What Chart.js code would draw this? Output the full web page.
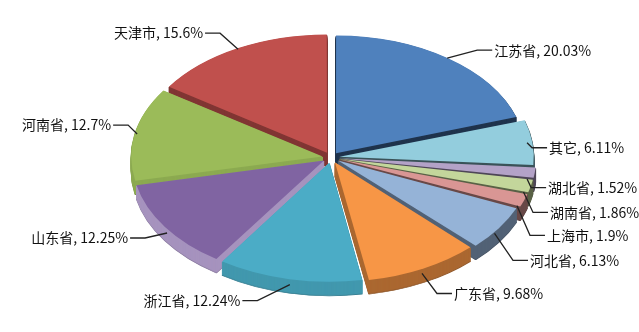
<!DOCTYPE html>
<html>
<head>
<meta charset="utf-8">
<script src="https://cdn.jsdelivr.net/npm/chart.js@4.4.1/dist/chart.umd.min.js"></script>
<style>
  html, body { margin: 0; padding: 0; background: #ffffff; }
  #wrap { position: relative; width: 639px; height: 332px; }
</style>
</head>
<body>
<div id="wrap"><canvas id="pie"></canvas></div>
<script>
// Share of total by region (%), clockwise from 12 o'clock
const regions = ['江苏省', '其它', '湖北省', '湖南省', '上海市', '河北省', '广东省', '浙江省', '山东省', '河南省', '天津市'];
const shares = [20.03, 6.11, 1.52, 1.86, 1.9, 6.13, 9.68, 12.24, 12.25, 12.7, 15.6];
const sliceColors = ['#4F81BD', '#93CDDD', '#B3A2C7', '#C3D69B', '#D99694', '#95B3D7', '#F79646', '#4BACC6', '#8064A2', '#9BBB59', '#C0504D'];

// Look of the tilted pie
const PIE_RX = 189;      // horizontal radius of the top face
const PIE_RY = 117.5;    // vertical radius of the top face
const PIE_DEPTH = 14;    // thickness of the slab
const LABEL_FONT = '14px "Liberation Sans Narrow", "Noto Sans CJK SC", sans-serif';

// Callout bends (dx, dy) from the slice edge to the elbow of each leader line
const calloutBend = [[30, -8], [5, 5], [4, 8.5], [9.5, 20.5], [13, 29.5], [18.5, 27], [15, 20], [-32.5, 16], [-22, 5], [-9, -9], [-18, -16]];
const CALLOUT_TAIL = 15;

function shade(hex, f) {
  const n = parseInt(hex.slice(1), 16);
  let r = (n >> 16) & 255, g = (n >> 8) & 255, b = n & 255;
  if (f > 1) {
    const t = f - 1;
    r = r + (255 - r) * t; g = g + (255 - g) * t; b = b + (255 - b) * t;
  } else {
    r *= f; g *= f; b *= f;
  }
  const c = v => Math.max(0, Math.min(255, Math.round(v))).toString(16).padStart(2, '0');
  return '#' + c(r) + c(g) + c(b);
}

// side-wall colour: lit from the lower left
function wallColor(hex, halfAngle) {
  const light = Math.cos(halfAngle - (150 * Math.PI / 180));
  let f = 0.68 + 0.3 * light;
  if (f > 0.95) f = 1.3;
  return shade(hex, f);
}

function pieTransform(ctx, arc) {
  const R = arc.outerRadius;
  ctx.translate(arc.x, arc.y);
  ctx.scale(PIE_RX / R, PIE_RY / R);
  ctx.translate(-arc.x, -arc.y);
}

const tiltedPie = {
  id: 'tiltedPie',
  beforeDatasetsDraw(chart) {
    const ctx = chart.ctx;
    const arcs = chart.getDatasetMeta(0).data;
    if (!arcs.length) return;
    // back slices first
    const order = arcs.map((a, i) => i).sort((i, j) => {
      const ai = (arcs[i].startAngle + arcs[i].endAngle) / 2;
      const aj = (arcs[j].startAngle + arcs[j].endAngle) / 2;
      return Math.sin(ai) - Math.sin(aj);
    });
    for (let d = PIE_DEPTH; d >= 1; d--) {
      for (const i of order) {
        const arc = arcs[i];
        const half = (arc.startAngle + arc.endAngle) / 2;
        let col = wallColor(sliceColors[i], half);
        if (d === PIE_DEPTH) col = shade(col, 0.85);
        const saved = arc.options;
        arc.options = Object.assign({}, saved, { backgroundColor: col, borderColor: col, borderWidth: 1 });
        ctx.save();
        ctx.translate(0, d);
        pieTransform(ctx, arc);
        arc.draw(ctx);
        ctx.restore();
        arc.options = saved;
      }
    }
    ctx.save();
    pieTransform(ctx, arcs[0]);
  },
  afterDatasetsDraw(chart) {
    const ctx = chart.ctx;
    const arcs = chart.getDatasetMeta(0).data;
    if (!arcs.length) return;
    ctx.restore();

    ctx.save();
    ctx.font = LABEL_FONT;
    ctx.fillStyle = '#111111';
    ctx.strokeStyle = '#222222';
    ctx.lineWidth = 1.3;
    ctx.textBaseline = 'middle';
    arcs.forEach((arc, i) => {
      const R = arc.outerRadius;
      const sx = PIE_RX / R, sy = PIE_RY / R;
      const half = (arc.startAngle + arc.endAngle) / 2;
      const off = (arc.options.offset || 0) / 4;
      const lx = Math.cos(half) * (R + off);
      const ly = Math.sin(half) * (R + off);
      const ax = arc.x + lx * sx;
      const ay = arc.y + ly * sy + (Math.sin(half) > 0 ? PIE_DEPTH / 2 : 0);
      const [bx, by] = calloutBend[i];
      const ex = ax + bx, ey = ay + by;
      const dir = Math.cos(half) >= 0 ? 1 : -1;
      const tx = ex + dir * CALLOUT_TAIL;
      ctx.beginPath();
      ctx.moveTo(ax, ay);
      ctx.lineTo(ex, ey);
      ctx.lineTo(tx, ey);
      ctx.stroke();
      ctx.textAlign = dir > 0 ? 'left' : 'right';
      ctx.fillText(regions[i] + ', ' + shares[i] + '%', tx + dir * 2, ey);
    });
    ctx.restore();
  }
};

new Chart(document.getElementById('pie'), {
  type: 'pie',
  data: {
    labels: regions,
    datasets: [{
      data: shares,
      backgroundColor: sliceColors,
      borderWidth: 0,
      offset: 26,
      clip: false
    }]
  },
  options: {
    responsive: true,
    maintainAspectRatio: false,
    animation: false,
    events: [],
    layout: { padding: { left: 23, right: 0, top: 0, bottom: 17 } },
    plugins: {
      legend: { display: false },
      tooltip: { enabled: false }
    }
  },
  plugins: [tiltedPie]
});
</script>
</body>
</html>
